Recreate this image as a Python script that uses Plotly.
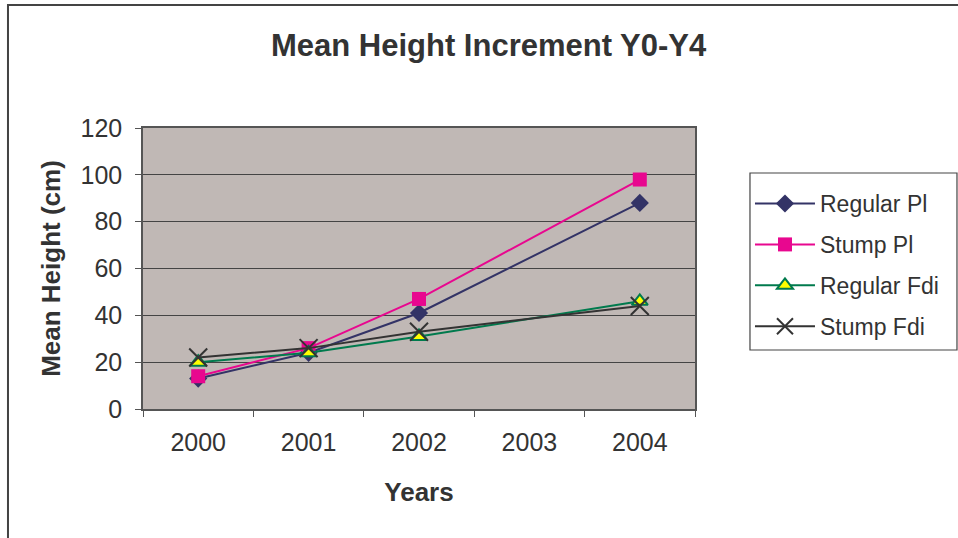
import plotly.graph_objects as go

# Mean height (cm) per year for each treatment
years = ["2000", "2001", "2002", "2003", "2004"]
regular_pl = [13, 24, 41, None, 88]
stump_pl = [14, 26, 47, None, 98]
regular_fdi = [20, 24, 31, None, 46]
stump_fdi = [22, 26, 33, None, 44]

FONT = "Liberation Sans, Arial, sans-serif"
TEXT = "#333333"

fig = go.Figure()

series = [
    ("Regular Pl", regular_pl, "#333366",
     dict(symbol="diamond", size=14, color="#333366")),
    ("Stump Pl", stump_pl, "#E8078F",
     dict(symbol="square", size=14, color="#E8078F")),
    ("Regular Fdi", regular_fdi, "#007A4D",
     dict(symbol="triangle-up", size=14, color="#FFFF00",
          line=dict(color="#007A4D", width=2))),
    ("Stump Fdi", stump_fdi, "#333333",
     dict(symbol="x-thin", size=18, line=dict(color="#333333", width=2))),
]

for name, vals, col, mk in series:
    fig.add_trace(go.Scatter(
        x=years, y=vals, name=name, mode="lines+markers",
        connectgaps=True, legendgroup=name,
        line=dict(color=col, width=2), marker=mk,
    ))

fig.update_layout(
    width=958, height=538,
    margin=dict(l=143, r=263, t=128, b=129),
    paper_bgcolor="white",
    plot_bgcolor="#C0B8B5",
    font=dict(family=FONT, color=TEXT, size=25),
    title=dict(text="<b>Mean Height Increment Y0-Y4</b>",
               x=0.51, xref="container", xanchor="center",
               y=0.916, yref="container", yanchor="middle",
               font=dict(size=31, color=TEXT)),
    showlegend=True,
    legend=dict(
        x=1.0996, xanchor="left", y=0.84, yanchor="top",
        borderwidth=0, bgcolor="rgba(0,0,0,0)",
        font=dict(size=23, color=TEXT),
        tracegroupgap=8, itemwidth=60,
        title=dict(text=" ", font=dict(size=7)),
    ),
    xaxis=dict(
        type="category", tickson="boundaries",
        ticks="outside", ticklen=6, tickcolor="#555555",
        showline=True, linecolor="#555555", linewidth=1.5,
        mirror=True, showgrid=False,
        tickfont=dict(size=25), ticklabelstandoff=10,
        title=dict(text="<b>Years</b>", font=dict(size=26), standoff=28),
        range=[-0.5, 4.5],
    ),
    yaxis=dict(
        range=[0, 120], dtick=20,
        ticks="outside", ticklen=6, tickcolor="#555555",
        showline=True, linecolor="#555555", linewidth=1.5,
        mirror=True,
        showgrid=True, gridcolor="#444444", gridwidth=1.2,
        zeroline=False,
        tickfont=dict(size=25), ticklabelstandoff=8,
        title=dict(text="<b>Mean Height (cm)</b>", font=dict(size=26), standoff=12),
    ),
)

# Outer chart frame
fig.add_shape(type="rect", xref="paper", yref="paper",
              x0=-0.2446, x1=1.6, y0=-0.6, y1=1.4377,
              line=dict(color="#444444", width=2), layer="below")

# Legend frame
fig.add_shape(type="rect", xref="paper", yref="paper",
              x0=1.0996, x1=1.4746, y0=0.21, y1=0.8399,
              line=dict(color="#444444", width=1.2),
              fillcolor="white", layer="below")

fig.write_html("out.html")
